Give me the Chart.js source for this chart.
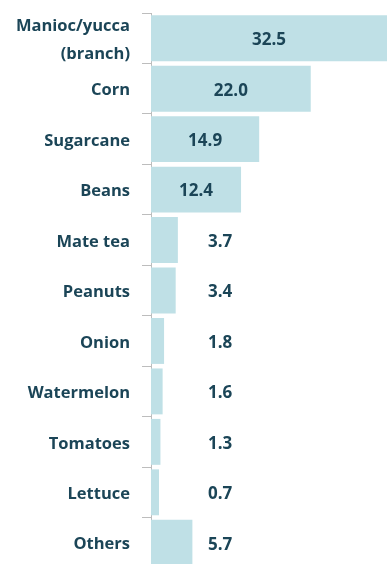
<!DOCTYPE html>
<html>
<head>
<meta charset="utf-8">
<script src="https://cdn.jsdelivr.net/npm/chart.js@4.4.0/dist/chart.umd.min.js"></script>
<style>
  html, body { margin: 0; padding: 0; background: #ffffff; overflow: hidden; }
  #wrap { width: 387px; height: 568px; position: relative; }
</style>
</head>
<body>
<div id="wrap"><canvas id="chart"></canvas></div>
<script>
// ---------- dados ----------
const categories = [
  ["Manioc/yucca", "(branch)"],
  "Corn",
  "Sugarcane",
  "Beans",
  "Mate tea",
  "Peanuts",
  "Onion",
  "Watermelon",
  "Tomatoes",
  "Lettuce",
  "Others"
];
const shares = [32.5, 22.0, 14.9, 12.4, 3.7, 3.4, 1.8, 1.6, 1.3, 0.7, 5.7];

// ---------- estilo ----------
const NAVY = "#1b4557";
const BAR = "#bfe0e6";
const AXIS = "#bdbdbd";
const FONT = "'Open Sans', sans-serif";

// ---------- rótulos de valor ----------
const valueLabels = {
  id: "valueLabels",
  afterDatasetsDraw(chart) {
    const ctx = chart.ctx;
    const meta = chart.getDatasetMeta(0);
    ctx.save();
    ctx.fillStyle = NAVY;
    ctx.font = "bold 17px " + FONT;
    ctx.textBaseline = "middle";
    meta.data.forEach((bar, i) => {
      const v = shares[i];
      const txt = v.toFixed(1);
      if (v >= 10) {
        // dentro da barra, centralizado
        ctx.textAlign = "center";
        ctx.fillText(txt, (bar.x + bar.base) / 2, bar.y + 2);
      } else {
        // fora da barra, coluna fixa
        ctx.textAlign = "left";
        ctx.fillText(txt, bar.base + 57, bar.y + 2);
      }
    });
    ctx.restore();
  }
};

new Chart(document.getElementById("chart"), {
  type: "bar",
  data: {
    labels: categories,
    datasets: [{
      data: shares,
      backgroundColor: BAR,
      borderWidth: 0,
      categoryPercentage: 1,
      barPercentage: 0.91,
      minBarLength: 8
    }]
  },
  options: {
    indexAxis: "y",
    responsive: true,
    maintainAspectRatio: false,
    animation: false,
    layout: { padding: { top: 13, right: 0, bottom: 0, left: 0 } },
    plugins: {
      legend: { display: false },
      tooltip: { enabled: false }
    },
    scales: {
      x: {
        display: false,
        min: 0,
        max: 32.5
      },
      y: {
        afterFit(scale) {
          scale.width = 151;
          scale.paddingTop = 0;
          scale.paddingBottom = 0;
        },
        border: { display: true, color: AXIS, width: 1 },
        grid: {
          offset: true,
          drawOnChartArea: false,
          drawTicks: true,
          tickLength: 9,
          color: AXIS
        },
        ticks: {
          color: NAVY,
          padding: 12,
          autoSkip: false,
          labelOffset: 2,
          font: { family: FONT, weight: "bold", size: 16.5, lineHeight: 1.65 }
        }
      }
    }
  },
  plugins: [valueLabels]
});
</script>
</body>
</html>
